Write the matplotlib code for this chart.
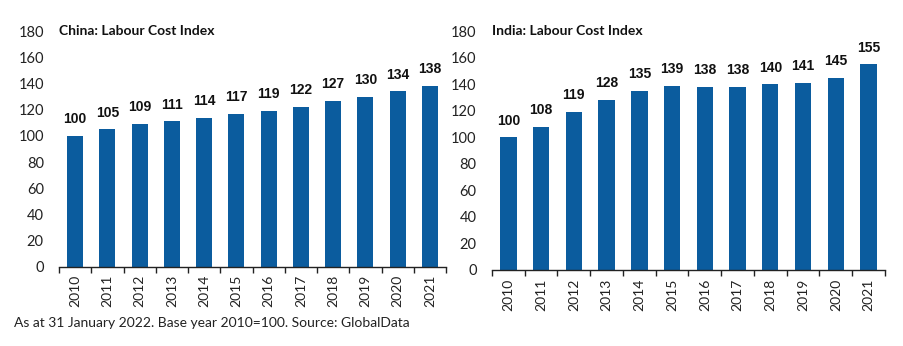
import matplotlib
matplotlib.use("Agg")
import numpy as np
import matplotlib.pyplot as plt

years = [str(y) for y in range(2010, 2022)]
china = [100, 105, 109, 111, 114, 117, 119, 122, 127, 130, 134, 138]
india = [100, 108, 119, 128, 135, 139, 138, 138, 140, 141, 145, 155]
yticks = [0, 20, 40, 60, 80, 100, 120, 140, 160, 180]

BLUE = "#0b5c9e"
TICK_FONT = ["Lato", "DejaVu Sans"]
YEAR_FONT = ["Liberation Sans Narrow", "Lato", "DejaVu Sans"]
VALUE_FONT = ["Liberation Sans", "DejaVu Sans"]

fig = plt.figure(figsize=(9.04, 3.46), dpi=100)
axes = [fig.add_axes([0.0653, 0.229, 0.4281, 0.681]),
        fig.add_axes([0.5442, 0.2197, 0.4347, 0.690])]


def draw(ax, values, title):
    x = np.arange(len(years))
    ax.bar(x, values, width=0.5, color=BLUE, zorder=2)
    for xi, v in zip(x, values):
        ax.annotate(str(v), (xi, v), xytext=(0, 7), textcoords="offset points",
                    ha="center", va="bottom", fontsize=10, fontweight="bold",
                    family=VALUE_FONT, color="#111111")
    ax.set_xlim(-0.5, len(years) - 0.5)
    ax.set_ylim(0, 180)
    ax.set_yticks(yticks)
    ax.set_yticklabels([str(t) for t in yticks], family=TICK_FONT, fontsize=10.5,
                       color="#222222")
    ax.tick_params(axis="y", length=0, pad=11)
    # category boundary ticks (major) and labels at centres (minor)
    ax.set_xticks(np.arange(-0.5, len(years), 1.0))
    ax.set_xticklabels([])
    ax.set_xticks(x, minor=True)
    ax.set_xticklabels(years, minor=True, rotation=90, family=YEAR_FONT,
                       fontsize=10, color="#222222")
    ax.tick_params(axis="x", which="major", length=4, width=1, direction="out",
                   color="#222222")
    ax.tick_params(axis="x", which="minor", length=0, pad=6)
    for s in ["top", "right", "left"]:
        ax.spines[s].set_visible(False)
    ax.spines["bottom"].set_color("#222222")
    ax.spines["bottom"].set_linewidth(1)
    ax.text(0.0, 180, title, transform=ax.get_yaxis_transform(),
            ha="left", va="center", fontsize=10, fontweight="bold",
            family=TICK_FONT, color="#111111")


draw(axes[0], china, "China: Labour Cost Index")
draw(axes[1], india, "India: Labour Cost Index")

fig.text(0.0155, 0.066, "As at 31 January 2022. Base year 2010=100. Source: GlobalData",
         ha="left", va="center", fontsize=10, family=TICK_FONT, color="#222222")

fig.savefig("out.png", dpi=100)
